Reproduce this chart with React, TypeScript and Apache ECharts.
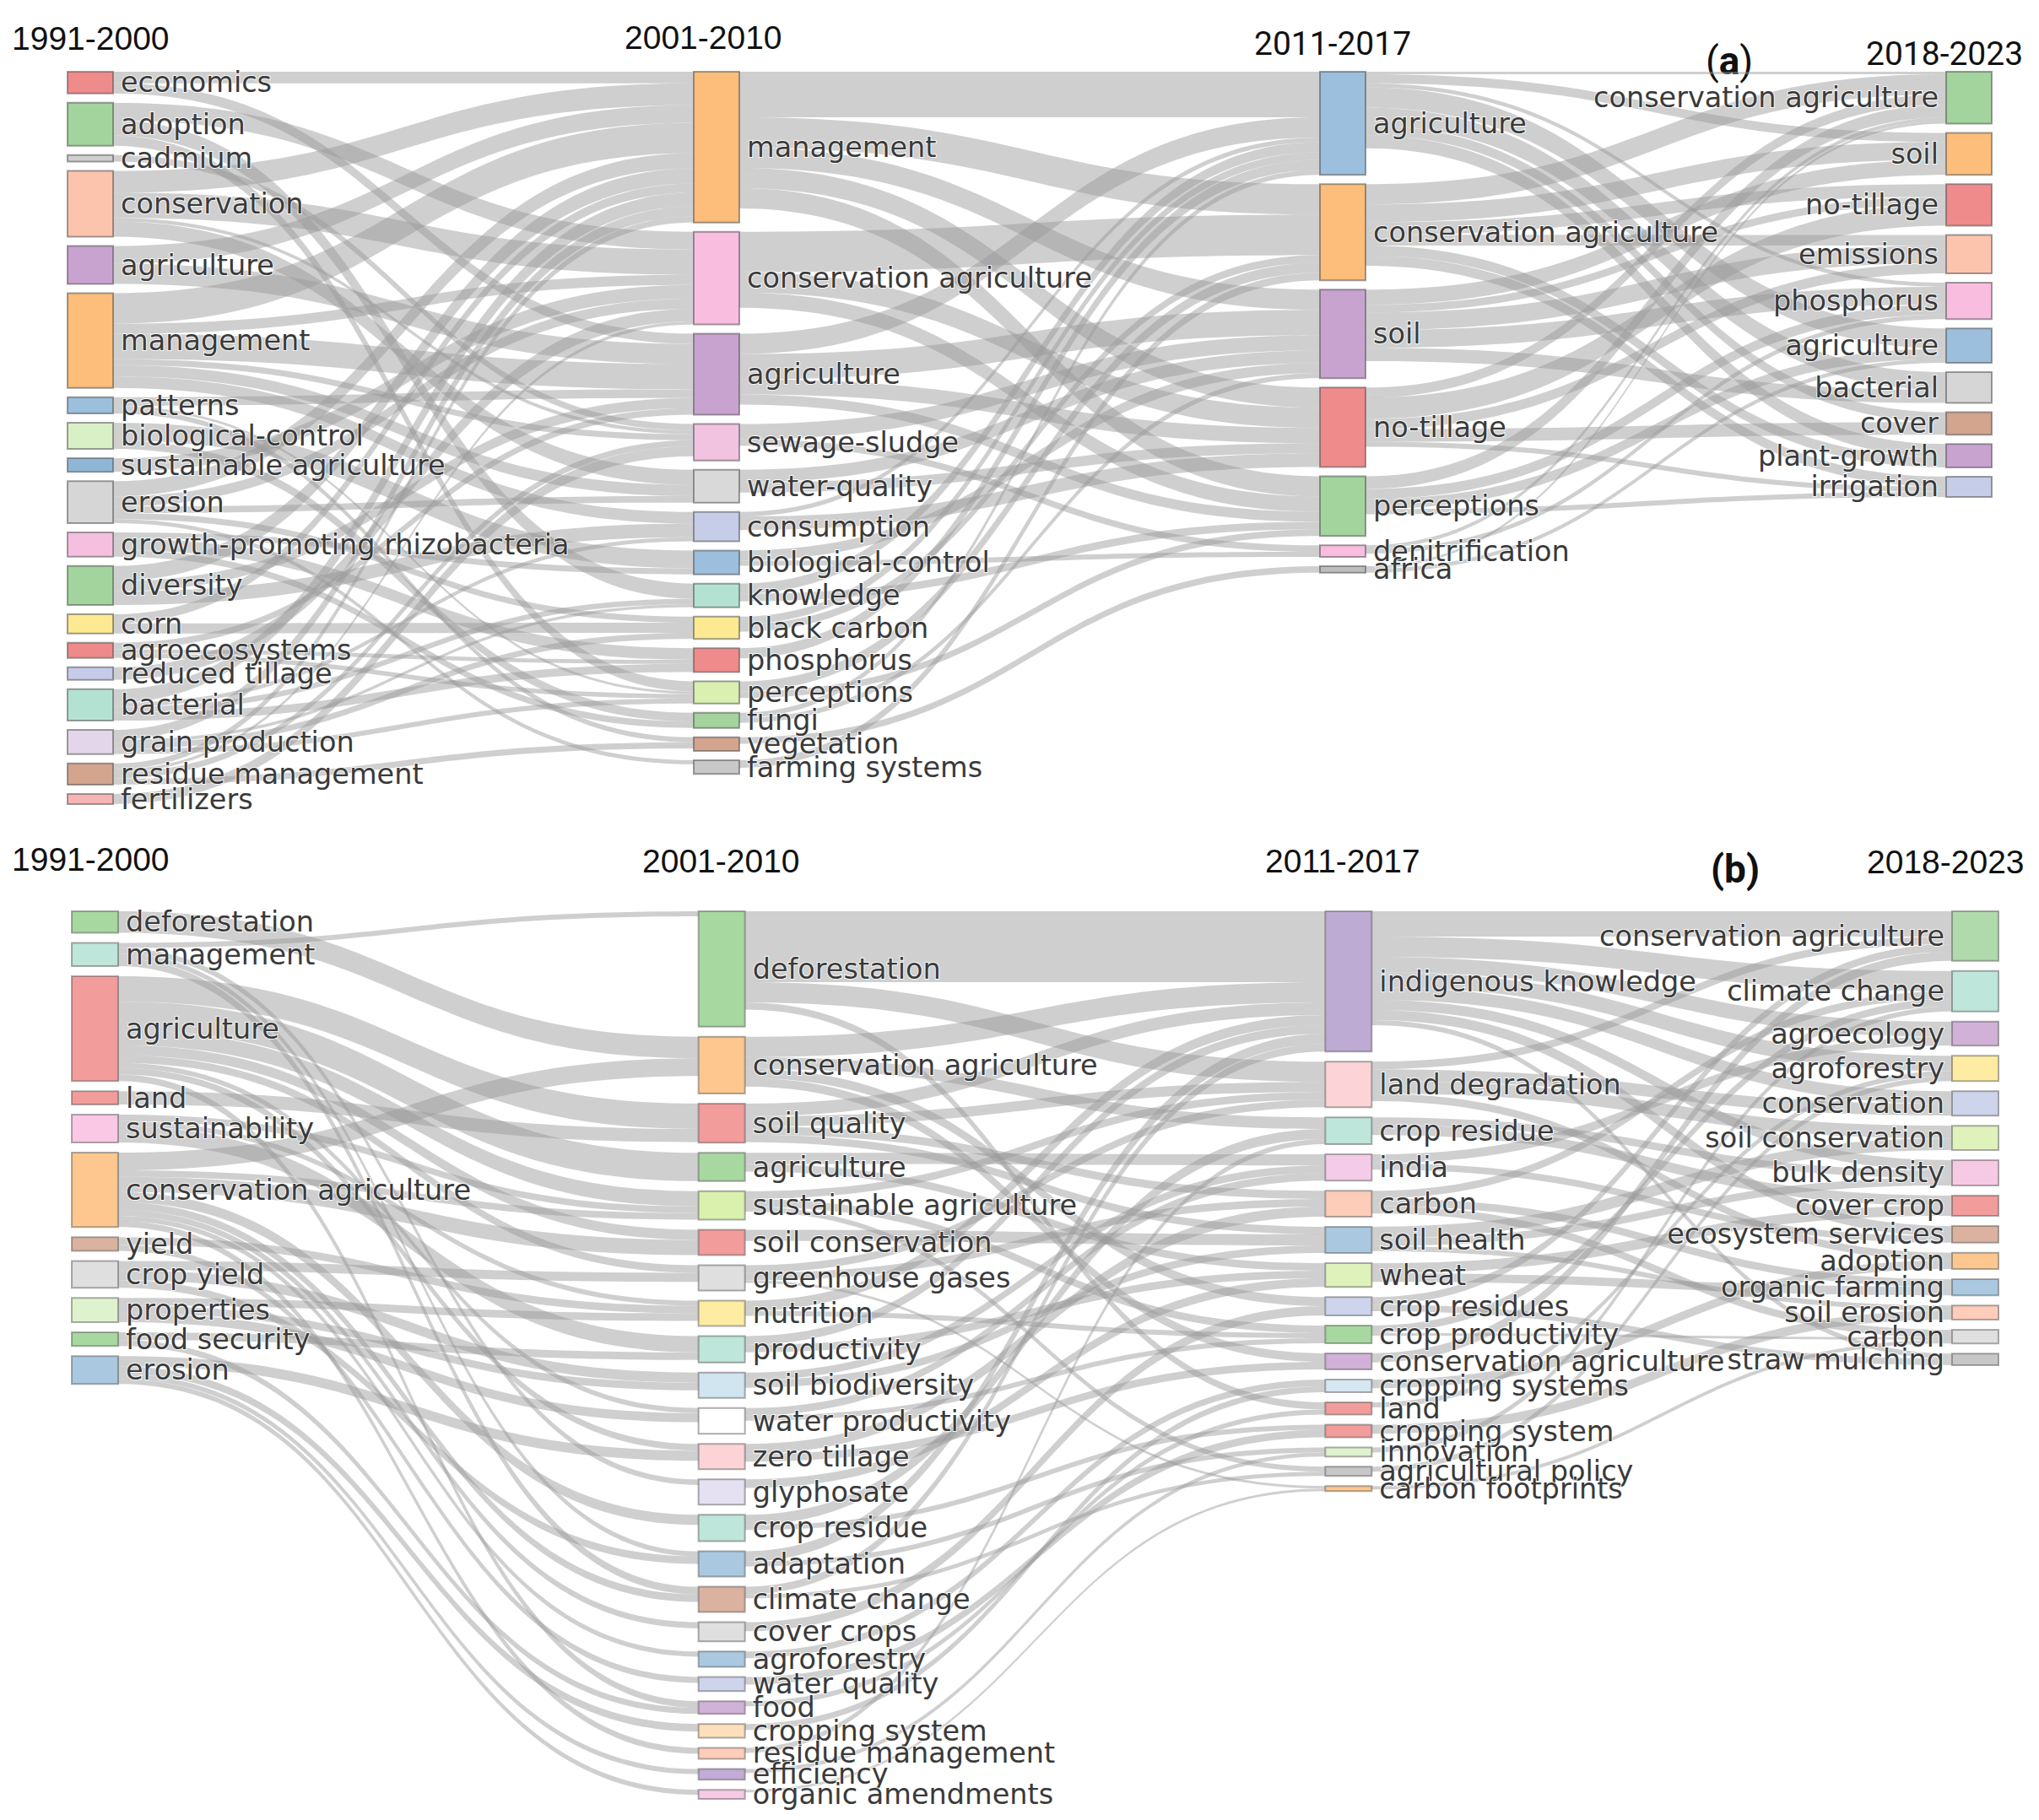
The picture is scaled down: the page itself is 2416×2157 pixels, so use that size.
import React, { useEffect, useRef } from "react";
import * as echarts from "echarts";

// ---------- Panel (a) ----------
const PERIODS = ["1991-2000", "2001-2010", "2011-2017", "2018-2023"];

const A1_NAMES = ["economics", "adoption", "cadmium", "conservation", "agriculture", "management", "patterns", "biological-control", "sustainable agriculture", "erosion", "growth-promoting rhizobacteria", "diversity", "corn", "agroecosystems", "reduced tillage", "bacterial", "grain production", "residue management", "fertilizers"];
const A1_VALUES = [4.3, 8.5, 1.3, 13, 7.5, 18.7, 3.2, 5.2, 2.7, 8.3, 4.8, 7.7, 3.8, 3, 2.5, 6.2, 4.8, 4.2, 2];
const A2_NAMES = ["management", "conservation agriculture", "agriculture", "sewage-sludge", "water-quality", "consumption", "biological-control", "knowledge", "black carbon", "phosphorus", "perceptions", "fungi", "vegetation", "farming systems"];
const A2_VALUES = [29.8, 18.3, 16, 7.2, 6.5, 5.8, 4.7, 4.7, 4.4, 4.7, 4.4, 3, 2.7, 2.7];
const A3_NAMES = ["agriculture", "conservation agriculture", "soil", "no-tillage", "perceptions", "denitrification", "africa"];
const A3_VALUES = [20.4, 19, 17.5, 15.7, 11.8, 2.3, 1.3];
const A4_NAMES = ["conservation agriculture", "soil", "no-tillage", "emissions", "phosphorus", "agriculture", "bacterial", "cover", "plant-growth", "irrigation"];
const A4_VALUES = [10.25, 8.3, 8.2, 7.6, 7.2, 6.8, 6.1, 4.45, 4.6, 4];

const A_LINKS_12: [string, string, number][] = [
  ["economics", "management", 2.3], ["economics", "agriculture", 2.0],
  ["adoption", "conservation agriculture", 3.5], ["adoption", "knowledge", 3.0], ["adoption", "perceptions", 2.0],
  ["cadmium", "sewage-sludge", 1.3],
  ["conservation", "management", 4.3], ["conservation", "conservation agriculture", 5], ["conservation", "sewage-sludge", 0.7], ["conservation", "water-quality", 3],
  ["agriculture", "management", 3.5], ["agriculture", "agriculture", 4],
  ["management", "management", 6], ["management", "conservation agriculture", 2], ["management", "agriculture", 5], ["management", "sewage-sludge", 1.2], ["management", "water-quality", 2.2], ["management", "consumption", 2.3],
  ["patterns", "agriculture", 1.7], ["patterns", "perceptions", 0.5], ["patterns", "vegetation", 1.0],
  ["biological-control", "biological-control", 3.5], ["biological-control", "fungi", 1.7],
  ["sustainable agriculture", "conservation agriculture", 2.7],
  ["erosion", "management", 3], ["erosion", "conservation agriculture", 2], ["erosion", "water-quality", 1.3], ["erosion", "black carbon", 1.2], ["erosion", "farming systems", 0.8],
  ["growth-promoting rhizobacteria", "biological-control", 1.2], ["growth-promoting rhizobacteria", "phosphorus", 2.3], ["growth-promoting rhizobacteria", "fungi", 1.3],
  ["diversity", "management", 3], ["diversity", "agriculture", 2], ["diversity", "consumption", 2.7],
  ["corn", "black carbon", 2.0], ["corn", "management", 1.8],
  ["agroecosystems", "agriculture", 1.3], ["agroecosystems", "phosphorus", 0.8], ["agroecosystems", "perceptions", 0.9],
  ["reduced tillage", "conservation agriculture", 2.5],
  ["bacterial", "management", 2.7], ["bacterial", "consumption", 0.8], ["bacterial", "knowledge", 1.1], ["bacterial", "phosphorus", 1.6],
  ["grain production", "management", 2], ["grain production", "black carbon", 1.2], ["grain production", "knowledge", 0.6], ["grain production", "perceptions", 1.0],
  ["residue management", "management", 1.2], ["residue management", "conservation agriculture", 0.6], ["residue management", "sewage-sludge", 1.2], ["residue management", "vegetation", 1.2],
  ["fertilizers", "sewage-sludge", 2.0],
];
const A_LINKS_23: [string, string, number][] = [
  ["management", "agriculture", 9], ["management", "conservation agriculture", 6], ["management", "soil", 4], ["management", "no-tillage", 4], ["management", "perceptions", 4],
  ["conservation agriculture", "conservation agriculture", 8], ["conservation agriculture", "no-tillage", 4], ["conservation agriculture", "perceptions", 3],
  ["agriculture", "agriculture", 4], ["agriculture", "soil", 5], ["agriculture", "no-tillage", 3], ["agriculture", "perceptions", 2],
  ["sewage-sludge", "soil", 3], ["sewage-sludge", "denitrification", 1.3],
  ["water-quality", "soil", 2.5], ["water-quality", "no-tillage", 2],
  ["consumption", "agriculture", 0.9], ["consumption", "no-tillage", 2.7],
  ["biological-control", "soil", 2], ["biological-control", "denitrification", 1.0],
  ["knowledge", "agriculture", 2], ["knowledge", "perceptions", 1.5],
  ["black carbon", "agriculture", 1.5], ["black carbon", "conservation agriculture", 1.5],
  ["phosphorus", "agriculture", 2],
  ["perceptions", "conservation agriculture", 2], ["perceptions", "perceptions", 1.3],
  ["fungi", "agriculture", 1.0], ["fungi", "soil", 1.0],
  ["vegetation", "africa", 1.3],
  ["farming systems", "conservation agriculture", 1.5],
];
const A_LINKS_34: [string, string, number][] = [
  ["conservation agriculture", "conservation agriculture", 4], ["perceptions", "conservation agriculture", 2.5], ["no-tillage", "conservation agriculture", 2.0], ["denitrification", "conservation agriculture", 0.75], ["africa", "conservation agriculture", 0.5], ["agriculture", "conservation agriculture", 0.5],
  ["conservation agriculture", "soil", 3.5], ["soil", "soil", 3], ["agriculture", "soil", 1.8],
  ["no-tillage", "no-tillage", 4.2], ["conservation agriculture", "no-tillage", 2.5], ["soil", "no-tillage", 1.5],
  ["soil", "emissions", 3.5], ["no-tillage", "emissions", 2.0], ["conservation agriculture", "emissions", 2.1],
  ["soil", "phosphorus", 3.5], ["perceptions", "phosphorus", 2.0], ["denitrification", "phosphorus", 0.9], ["agriculture", "phosphorus", 0.8],
  ["agriculture", "agriculture", 4], ["perceptions", "agriculture", 2], ["africa", "agriculture", 0.8],
  ["agriculture", "bacterial", 3.5], ["soil", "bacterial", 2.6],
  ["no-tillage", "cover", 2.5], ["agriculture", "cover", 1.95],
  ["agriculture", "plant-growth", 2.6], ["conservation agriculture", "plant-growth", 2.0],
  ["conservation agriculture", "irrigation", 2.0], ["no-tillage", "irrigation", 1.0], ["perceptions", "irrigation", 1.0],
];

// ---------- Panel (b) ----------
const B1_NAMES = ["deforestation", "management", "agriculture", "land", "sustainability", "conservation agriculture", "yield", "crop yield", "properties", "food security", "erosion"];
const B1_VALUES = [4.25, 4.6, 20.7, 2.6, 5.5, 14.7, 2.7, 5.3, 4.8, 2.7, 5.5];
const B2_NAMES = ["deforestation", "conservation agriculture", "soil quality", "agriculture", "sustainable agriculture", "soil conservation", "greenhouse gases", "nutrition", "productivity", "soil biodiversity", "water productivity", "zero tillage", "glyphosate", "crop residue", "adaptation", "climate change", "cover crops", "agroforestry", "water quality", "food", "cropping system", "residue management", "efficiency", "organic amendments"];
const B2_VALUES = [22.8, 11.2, 7.7, 5.6, 5.6, 5, 5, 5, 5.2, 5, 5.1, 5, 5, 5.2, 5, 5, 3.8, 3, 2.8, 2.5, 2.7, 2.2, 2.1, 1.8];
const B3_NAMES = ["indigenous knowledge", "land degradation", "crop residue", "india", "carbon", "soil health", "wheat", "crop residues", "crop productivity", "conservation agriculture", "cropping systems", "land", "cropping system", "innovation", "agricultural policy", "carbon footprints"];
const B3_VALUES = [27.7, 9, 5.3, 5.2, 5.1, 5.2, 4.7, 3.6, 3.5, 3.2, 2.5, 2.4, 2.5, 1.8, 1.8, 1.0];
const B4_NAMES = ["conservation agriculture", "climate change", "agroecology", "agroforestry", "conservation", "soil conservation", "bulk density", "cover crop", "ecosystem services", "adoption", "organic farming", "soil erosion", "carbon", "straw mulching"];
const B4_VALUES = [9.8, 8, 4.75, 5, 4.8, 4.8, 5, 4, 3.3, 3.2, 3.2, 2.8, 2.7, 2.3];

const B_LINKS_12: [string, string, number][] = [
  ["deforestation", "conservation agriculture", 4.25],
  ["management", "deforestation", 1.0], ["management", "climate change", 1.5], ["management", "adaptation", 1.0], ["management", "glyphosate", 1.1],
  ["agriculture", "soil quality", 5], ["agriculture", "agriculture", 5.6], ["agriculture", "sustainable agriculture", 3], ["agriculture", "soil conservation", 2], ["agriculture", "greenhouse gases", 1.5], ["agriculture", "zero tillage", 1.3], ["agriculture", "water productivity", 1.0], ["agriculture", "food", 1.3],
  ["land", "soil quality", 2.6],
  ["sustainability", "productivity", 3.2], ["sustainability", "sustainable agriculture", 1.3], ["sustainability", "nutrition", 1.0],
  ["conservation agriculture", "conservation agriculture", 3.5], ["conservation agriculture", "sustainable agriculture", 1.3], ["conservation agriculture", "soil conservation", 3], ["conservation agriculture", "crop residue", 2], ["conservation agriculture", "climate change", 1.5], ["conservation agriculture", "cover crops", 1.2], ["conservation agriculture", "agroforestry", 1.0], ["conservation agriculture", "residue management", 1.2],
  ["yield", "nutrition", 1.5], ["yield", "water quality", 1.2],
  ["crop yield", "greenhouse gases", 1.8], ["crop yield", "soil biodiversity", 2.0], ["crop yield", "adaptation", 1.5],
  ["properties", "nutrition", 1.5], ["properties", "soil biodiversity", 1.5], ["properties", "water productivity", 1.8],
  ["food security", "food", 1.2], ["food security", "productivity", 1.5],
  ["erosion", "zero tillage", 2.0], ["erosion", "efficiency", 1.0], ["erosion", "organic amendments", 1.0], ["erosion", "cropping system", 1.5],
];
const B_LINKS_23: [string, string, number][] = [
  ["deforestation", "indigenous knowledge", 14], ["conservation agriculture", "indigenous knowledge", 4], ["soil quality", "indigenous knowledge", 2.5], ["nutrition", "indigenous knowledge", 2], ["productivity", "indigenous knowledge", 1.7], ["adaptation", "indigenous knowledge", 2], ["climate change", "indigenous knowledge", 1.5],
  ["deforestation", "land degradation", 4], ["soil quality", "land degradation", 2], ["sustainable agriculture", "land degradation", 1.5], ["greenhouse gases", "land degradation", 1.5],
  ["conservation agriculture", "crop residue", 2.3], ["crop residue", "crop residue", 2], ["residue management", "crop residue", 1.0],
  ["agriculture", "india", 2.2], ["soil biodiversity", "india", 1.5], ["water productivity", "india", 1.5],
  ["greenhouse gases", "carbon", 1.5], ["soil quality", "carbon", 1.6], ["zero tillage", "carbon", 2.0],
  ["soil quality", "soil health", 1.5], ["soil conservation", "soil health", 2.2], ["soil biodiversity", "soil health", 1.5],
  ["agriculture", "wheat", 1.5], ["productivity", "wheat", 1.5], ["glyphosate", "wheat", 1.7],
  ["conservation agriculture", "crop residues", 1.8], ["cover crops", "crop residues", 1.8],
  ["sustainable agriculture", "crop productivity", 1.5], ["nutrition", "crop productivity", 1.0], ["water productivity", "crop productivity", 1.0],
  ["conservation agriculture", "conservation agriculture", 1.7], ["zero tillage", "conservation agriculture", 1.5],
  ["cropping system", "cropping systems", 1.2], ["agroforestry", "cropping systems", 1.3],
  ["deforestation", "land", 1.4], ["food", "land", 1.0],
  ["crop residue", "cropping system", 1.0], ["water quality", "cropping system", 1.5],
  ["adaptation", "innovation", 1.0], ["efficiency", "innovation", 0.8],
  ["sustainable agriculture", "agricultural policy", 1.0], ["climate change", "agricultural policy", 0.8],
  ["greenhouse gases", "carbon footprints", 0.5], ["organic amendments", "carbon footprints", 0.5],
];
const B_LINKS_34: [string, string, number][] = [
  ["indigenous knowledge", "conservation agriculture", 5], ["land degradation", "conservation agriculture", 1.5], ["conservation agriculture", "conservation agriculture", 1.8], ["crop residues", "conservation agriculture", 1.5],
  ["indigenous knowledge", "climate change", 4], ["carbon", "climate change", 1.5], ["crop productivity", "climate change", 1.5], ["innovation", "climate change", 1.0],
  ["indigenous knowledge", "agroecology", 3], ["india", "agroecology", 1.75],
  ["indigenous knowledge", "agroforestry", 3], ["land", "agroforestry", 1.0], ["agricultural policy", "agroforestry", 1.0],
  ["indigenous knowledge", "conservation", 2.5], ["land degradation", "conservation", 2.3],
  ["land degradation", "soil conservation", 2.5], ["soil health", "soil conservation", 2.3],
  ["indigenous knowledge", "bulk density", 2], ["soil health", "bulk density", 1.5], ["crop residue", "bulk density", 1.5],
  ["crop residue", "cover crop", 2], ["wheat", "cover crop", 2],
  ["indigenous knowledge", "ecosystem services", 2], ["india", "ecosystem services", 1.3],
  ["land degradation", "adoption", 1.5], ["cropping systems", "adoption", 1.7],
  ["wheat", "organic farming", 1.7], ["carbon", "organic farming", 1.5],
  ["soil health", "soil erosion", 1.0], ["cropping system", "soil erosion", 1.8],
  ["carbon", "carbon", 1.5], ["carbon footprints", "carbon", 0.7], ["crop productivity", "carbon", 0.5],
  ["crop residues", "straw mulching", 1.3], ["indigenous knowledge", "straw mulching", 1.0],
];

// ---------- Colours (styles, kept apart from the data) ----------
const A_COLORS = [
  ["#f08b8b", "#a3d49d", "#cfcfcf", "#fdc4ad", "#c9a3d0", "#fdbd7b", "#9bbfdc", "#d9f0c6", "#8fb6d6", "#d6d6d6", "#f5c0df", "#a3d49d", "#fde991", "#ee8a8a", "#c5cbe8", "#b3e2d3", "#e3d6ea", "#d3a48e", "#f8b4b4"],
  ["#fdbd7b", "#f9bddf", "#c9a3d0", "#f2c3e0", "#d9d9d9", "#c6cde9", "#9bbfdc", "#b3e2d3", "#fde991", "#f08b8b", "#d9f0b0", "#a3d49d", "#d3a48e", "#c8c8c8"],
  ["#9bbfdc", "#fdbd7b", "#c9a3d0", "#f08b8b", "#a3d49d", "#f9bddf", "#bdbdbd"],
  ["#a3d49d", "#fdbd7b", "#f08b8b", "#fdc4ad", "#f9bddf", "#9bbfdc", "#d6d6d6", "#d3a48e", "#c9a3d0", "#c6cde9"],
];
const B_COLORS = [
  ["#98d18f", "#b3e2d3", "#f08b8b", "#f08b8b", "#f9bddf", "#fdbd7b", "#d3a48e", "#d9d9d9", "#d9f0c6", "#98d18f", "#9bbfdc"],
  ["#98d18f", "#fdbd7b", "#f08b8b", "#98d18f", "#d3eea0", "#f08b8b", "#d9d9d9", "#fde991", "#b3e2d3", "#c9e0ef", "#ffffff", "#fbcdd0", "#e1dcf0", "#b3e2d3", "#9bbfdc", "#d3a48e", "#d9d9d9", "#9bbfdc", "#c6cde9", "#c9a3d0", "#fdd9b0", "#fdc4ad", "#b79ccf", "#f5c0df"],
  ["#b39ccc", "#fbcdd0", "#b3e2d3", "#f2c3e6", "#fdc4ad", "#9bbfdc", "#d9f0b0", "#c6cde9", "#98d18f", "#c9a3d0", "#cfe3f0", "#f08b8b", "#f08b8b", "#d9f0c6", "#bdbdbd", "#fdbd7b"],
  ["#a3d49d", "#b3e2d3", "#c9a3d0", "#fde991", "#c6cde9", "#d9f0b0", "#f5c0df", "#f08b8b", "#d3a48e", "#fdbd7b", "#9bbfdc", "#fdc4ad", "#d9d9d9", "#bdbdbd"],
];

function buildPanel(
  prefix: string,
  cols: string[][],
  vals: number[][],
  colors: string[][],
  links: [string, string, number][][],
  nodeOpacity: number
) {
  const nodes: any[] = [];
  cols.forEach((names, d) =>
    names.forEach((n, i) =>
      nodes.push({
        name: `${prefix}${d}|${n}`,
        depth: d,
        value: vals[d][i],
        itemStyle: { color: colors[d][i], opacity: nodeOpacity },
        label: d === cols.length - 1 ? { position: "left" } : { position: "right" },
      })
    )
  );
  const edges: any[] = [];
  links.forEach((ls, d) =>
    ls.forEach(([s, t, v]) =>
      edges.push({ source: `${prefix}${d}|${s}`, target: `${prefix}${d + 1}|${t}`, value: v })
    )
  );
  return { nodes, edges };
}

const labelFormatter = (p: any) => String(p.name).split("|")[1];

function sankeySeries(data: { nodes: any[]; edges: any[] }, box: any, nodeWidth: number, nodeGap: number) {
  return {
    type: "sankey",
    ...box,
    nodeWidth,
    nodeGap,
    layoutIterations: 0,
    nodeAlign: "left",
    draggable: false,
    silent: true,
    data: data.nodes,
    links: data.edges,
    itemStyle: { borderColor: "rgba(80,80,80,0.55)", borderWidth: 2 },
    lineStyle: { color: "#999999", opacity: 0.47, curveness: 0.5 },
    label: {
      show: true,
      distance: 8,
      fontFamily: "DejaVu Sans",
      fontSize: 33.5,
      color: "#3a3a3a",
      textBorderColor: "rgba(255,255,255,0.85)",
      textBorderWidth: 2,
      formatter: labelFormatter,
    },
    emphasis: { disabled: true },
  };
}

function yearText(text: string, x: number, y: number, font: string) {
  return {
    type: "text",
    x,
    y,
    silent: true,
    style: { text, fontFamily: font, fontSize: 39, fill: "#111", align: "left", verticalAlign: "middle" },
  };
}

function panelTag(letter: string, x: number, y: number, parenWeight: string) {
  return {
    type: "text",
    x,
    y,
    silent: true,
    style: {
      text: `{p|(}{b|${letter}}{p|)}`,
      align: "left",
      verticalAlign: "middle",
      rich: {
        p: { fontFamily: "Roboto", fontSize: 46, fontWeight: parenWeight, fill: "#111" },
        b: { fontFamily: "Roboto", fontSize: 46, fontWeight: "bold", fill: "#111" },
      },
    },
  };
}

export default function App() {
  const ref = useRef<HTMLDivElement>(null);
  useEffect(() => {
    document.body.style.margin = "0";
    const chart = echarts.init(ref.current!, undefined, { renderer: "svg" });
    const panelA = buildPanel(
      "a",
      [A1_NAMES, A2_NAMES, A3_NAMES, A4_NAMES],
      [A1_VALUES, A2_VALUES, A3_VALUES, A4_VALUES],
      A_COLORS,
      [A_LINKS_12, A_LINKS_23, A_LINKS_34],
      1
    );
    const panelB = buildPanel(
      "b",
      [B1_NAMES, B2_NAMES, B3_NAMES, B4_NAMES],
      [B1_VALUES, B2_VALUES, B3_VALUES, B4_VALUES],
      B_COLORS,
      [B_LINKS_12, B_LINKS_23, B_LINKS_34],
      0.85
    );
    chart.setOption({
      animation: false,
      backgroundColor: "#ffffff",
      series: [
        sankeySeries(panelA, { left: 80, top: 85, width: 2280, height: 868 }, 54, 11),
        sankeySeries(panelB, { left: 85, top: 1080, width: 2283, height: 1052 }, 55, 12),
      ],
      graphic: [
        yearText(PERIODS[0], 14, 45, "Liberation Sans"),
        yearText(PERIODS[1], 740, 44, "Liberation Sans"),
        yearText(PERIODS[2], 1486, 52, "Roboto"),
        yearText(PERIODS[3], 2211, 64, "Roboto"),
        panelTag("a", 2021, 72, "normal"),
        yearText(PERIODS[0], 14, 1018, "Liberation Sans"),
        yearText(PERIODS[1], 761, 1020, "Liberation Sans"),
        yearText(PERIODS[2], 1499, 1020, "Liberation Sans"),
        yearText(PERIODS[3], 2212, 1021, "Liberation Sans"),
        panelTag("b", 2027, 1030, "bold"),
      ],
    });
    return () => chart.dispose();
  }, []);
  return <div ref={ref} style={{ width: 2416, height: 2157, background: "#fff" }} />;
}
